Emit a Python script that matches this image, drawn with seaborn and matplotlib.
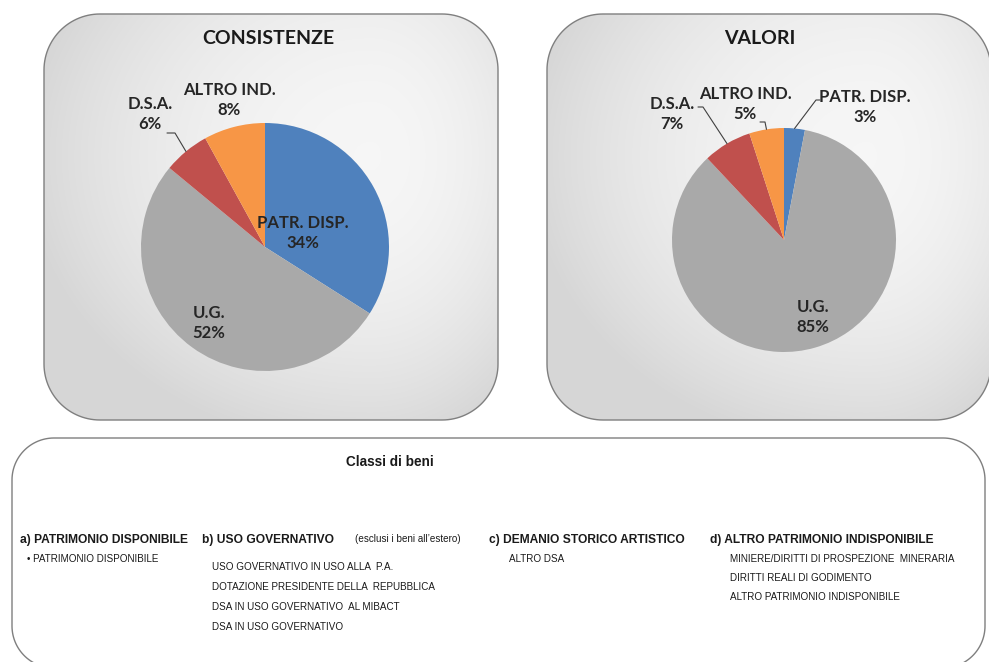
import numpy as np
import matplotlib
matplotlib.use('Agg')
import matplotlib.pyplot as plt
import seaborn as sns

# data
categories = ['PATR. DISP.', 'U.G.', 'D.S.A.', 'ALTRO IND.']
consistenze = [34, 52, 6, 8]
valori = [3, 85, 7, 5]
colors = sns.color_palette(['#4F81BD', '#A9A9A9', '#C0504D', '#F79646'])

legend_heads = ['a) PATRIMONIO DISPONIBILE', 'b) USO GOVERNATIVO',
                'c) DEMANIO STORICO ARTISTICO', 'd) ALTRO PATRIMONIO INDISPONIBILE']
legend_items = [
    ['\u2022 PATRIMONIO DISPONIBILE'],
    ['USO GOVERNATIVO IN USO ALLA  P.A.', 'DOTAZIONE PRESIDENTE DELLA  REPUBBLICA',
     'DSA IN USO GOVERNATIVO  AL MIBACT', 'DSA IN USO GOVERNATIVO'],
    ['ALTRO DSA'],
    ['MINIERE/DIRITTI DI PROSPEZIONE  MINERARIA', 'DIRITTI REALI DI GODIMENTO',
     'ALTRO PATRIMONIO INDISPONIBILE'],
]

sns.set_theme(style="white")
plt.rcParams['font.family'] = ['Lato', 'DejaVu Sans']

W, H = 989, 662
fig = plt.figure(figsize=(W / 100, H / 100), dpi=100)
ax = fig.add_axes([0, 0, 1, 1])


def Y(y):
    # image y (top-down) -> data y
    return H - y


def rounded_outline(x0, y0, x1, y1, r):
    # true circular corners, clockwise from top-left (image coords)
    pts = []
    for (cx, cy, a0) in [(x0 + r, y0 + r, 180), (x1 - r, y0 + r, 270),
                         (x1 - r, y1 - r, 0), (x0 + r, y1 - r, 90)]:
        t = np.deg2rad(np.linspace(a0, a0 + 90, 30))
        pts += list(zip(cx + r * np.cos(t), cy + r * np.sin(t)))
    xs = [p[0] for p in pts]
    ys = [Y(p[1]) for p in pts]
    return xs, ys


def panel(x0, y0, x1, y1, r, shade=True):
    nx, ny = int(x1 - x0), int(y1 - y0)
    PX, PY = np.meshgrid(x0 + np.arange(nx) + 0.5, y0 + np.arange(ny) + 0.5)
    u = (PX - x0) / (x1 - x0)
    v = (PY - y0) / (y1 - y0)
    if shade:
        hx = np.where(u < 0.72, ((u - 0.72) / 0.72) ** 2, ((u - 0.72) / 0.28) ** 2 * 0.4)
        hv = ((v - 0.35) / 0.65) ** 2
        g = np.clip(0.965 - 0.11 * hx - 0.10 * hv, 0.84, 1)
    else:
        g = np.ones_like(u)
    dx = np.maximum(np.maximum(x0 + r - PX, PX - (x1 - r)), 0)
    dy = np.maximum(np.maximum(y0 + r - PY, PY - (y1 - r)), 0)
    alpha = np.clip(r + 0.5 - np.sqrt(dx ** 2 + dy ** 2), 0, 1)
    ax.imshow(np.dstack([g, g, g, alpha]), extent=(x0, x1, Y(y1), Y(y0)),
              origin='upper', zorder=0, interpolation='nearest')
    xs, ys = rounded_outline(x0, y0, x1, y1, r)
    ax.fill(xs, ys, fill=False, edgecolor='#7f7f7f', lw=1.0, zorder=1)


def draw_pie(values, cx, cy, r, title, title_xy, label_xy, leaders):
    wedges, _ = ax.pie(values, center=(cx, Y(cy)), radius=r, startangle=90,
                       counterclock=False, colors=colors,
                       wedgeprops=dict(linewidth=0))
    for w in wedges:
        w.set_zorder(2)
    ax.text(title_xy[0], Y(title_xy[1]), title, ha='center', va='center',
            fontsize=14, fontweight='bold', color='#1a1a1a', zorder=3)
    for name, v, (lx, ly) in zip(categories, values, label_xy):
        ax.text(lx, Y(ly), f'{name}\n{v}%', ha='center', va='center',
                fontsize=12, fontweight='bold', color='#262626',
                linespacing=1.3, zorder=3)
    # leader lines end at the wedge's outer edge, mid-angle
    for i, pts in leaders.items():
        w = wedges[i]
        mid = np.deg2rad((w.theta1 + w.theta2) / 2)
        ex, ey = cx + r * np.cos(mid), Y(cy) + r * np.sin(mid)
        xs = [p[0] for p in pts] + [ex]
        ys = [Y(p[1]) for p in pts] + [ey]
        ax.plot(xs, ys, color='#404040', lw=0.8, zorder=3)


panel(44, 14, 498, 420, 56)
panel(547, 14, 991, 420, 56)
panel(12, 438, 985, 668, 42, shade=False)

draw_pie(consistenze, 265, 247, 124, 'CONSISTENZE', (268, 38),
         [(303, 233), (209, 323), (150, 114), (229, 100)],
         {2: [(167, 133), (175, 133)]})
draw_pie(valori, 784, 240, 112, 'VALORI', (760, 38),
         [(865, 107), (813, 317), (672, 114), (745, 104)],
         {0: [(820, 100), (816, 100)],
          2: [(698, 107), (703, 107)],
          3: [(760, 122), (765, 122)]})

# legend text
arial = ['Liberation Sans', 'DejaVu Sans']
ax.text(390, Y(462), 'Classi di beni', ha='center', va='center', fontsize=9.8,
        fontweight='bold', family=arial, color='#1a1a1a', zorder=3)

head_x = [20, 202, 489, 710]
item_x = [27, 212, 509, 730]
item_y0 = [559, 567, 559, 559]
item_dy = [19, 20, 19, 19]
for k in range(4):
    ax.text(head_x[k], Y(540), legend_heads[k], ha='left', va='center', fontsize=8.65,
            fontweight='bold', family=arial, color='#1a1a1a', zorder=3)
    for j, it in enumerate(legend_items[k]):
        ax.text(item_x[k], Y(item_y0[k] + j * item_dy[k]), it, ha='left', va='center',
                fontsize=7.1, family=arial, color='#1a1a1a', zorder=3)
ax.text(355, Y(539), '(esclusi i beni all\u2019estero)', ha='left', va='center',
        fontsize=7.1, family=arial, color='#1a1a1a', zorder=3)

ax.set_xlim(0, W)
ax.set_ylim(0, H)
ax.axis('off')

plt.savefig('out.png', dpi=100)
plt.close()
